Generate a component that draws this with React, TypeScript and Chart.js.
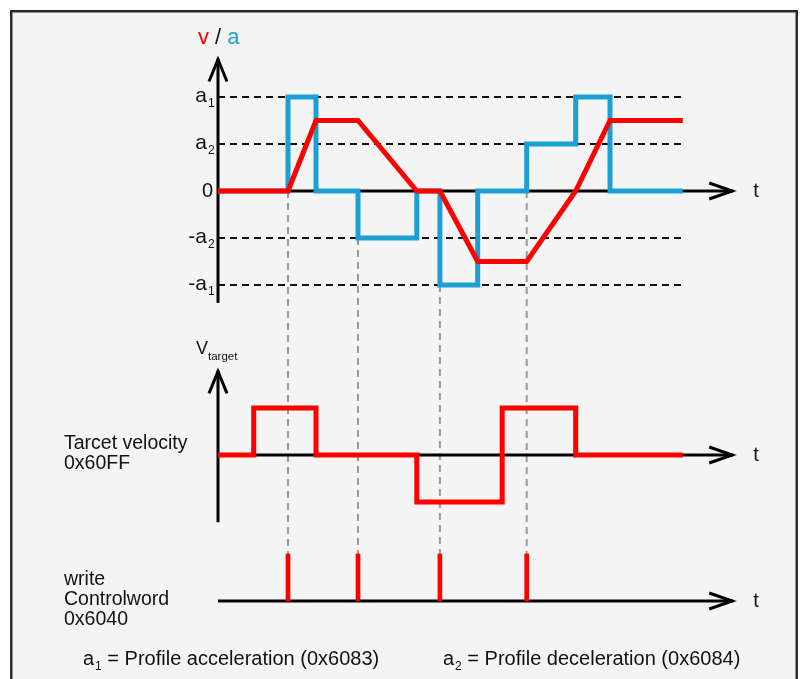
import React, { useEffect, useRef } from 'react';
import { Chart, registerables } from 'chart.js';

Chart.register(...registerables);

// ---- data ----
const timePoints = [0, 10, 14, 20, 28.4, 31.7, 37.1, 44.1, 51.1, 56, 66.4];
const accelValues = [0, 2, 0, -1, 0, -2, 0, 1, 2, 0, 0];
const velocityValues = [0, 0, 1.5, 1.5, 0, 0, -1.5, -1.5, 0, 1.5, 1.5];
const targetTimes = [0, 5.1, 14, 28.4, 40.6, 51.1, 66.4];
const targetValues = [0, 1, 0, -1, 1, 0, 0];
const writeTimes = [10, 20, 31.7, 44.1];
const writeValues = [1, 1, 1, 1];
const guideStartLevels = [0, -1, -2, 0];
const refLevels = [2, 1, -1, -2];
const refLabelMain = ['a', 'a', '-a', '-a'];
const refLabelSub = ['1', '2', '2', '1'];
const refEndTime = 66.7;
const arrowTipTime = 73.6;

const RED = '#ff0000';
const BLUE = '#1c9fd3';
const FONT = '"Liberation Sans", Arial, Helvetica, sans-serif';

const diagramPlugin = {
  id: 'diagram',
  beforeDraw(chart: any) {
    const ctx = chart.ctx;
    ctx.save();
    ctx.fillStyle = '#ffffff';
    ctx.fillRect(0, 0, chart.width, chart.height);
    ctx.fillStyle = '#f4f4f4';
    ctx.fillRect(11, 11, 786, 720);
    ctx.strokeStyle = '#2b2b2b';
    ctx.lineWidth = 2.5;
    ctx.strokeRect(11.25, 11.25, 785.5, 720);
    ctx.restore();
  },
  beforeDatasetsDraw(chart: any) {
    const ctx = chart.ctx;
    const sx = chart.scales.x;
    const yA = chart.scales.yA;
    const yV = chart.scales.yV;
    const yC = chart.scales.yC;
    const x0 = sx.getPixelForValue(0);
    const xTip = sx.getPixelForValue(arrowTipTime);
    ctx.save();
    // gray guides
    ctx.strokeStyle = '#9a9a9a';
    ctx.lineWidth = 2;
    ctx.setLineDash([7, 5]);
    writeTimes.forEach((t, i) => {
      const x = sx.getPixelForValue(t);
      ctx.beginPath();
      ctx.moveTo(x, yA.getPixelForValue(guideStartLevels[i]));
      ctx.lineTo(x, yC.getPixelForValue(0));
      ctx.stroke();
    });
    ctx.setLineDash([]);
    ctx.strokeStyle = '#000';
    ctx.lineWidth = 3;
    ctx.lineJoin = 'miter';
    ctx.lineCap = 'butt';
    const upAxis = (top: number, bottom: number) => {
      ctx.beginPath();
      ctx.moveTo(x0, bottom);
      ctx.lineTo(x0, top);
      ctx.stroke();
      ctx.beginPath();
      ctx.moveTo(x0 - 9, top + 23);
      ctx.lineTo(x0, top + 1);
      ctx.lineTo(x0 + 9, top + 23);
      ctx.stroke();
    };
    const rightAxis = (y: number) => {
      ctx.beginPath();
      ctx.moveTo(x0, y);
      ctx.lineTo(xTip, y);
      ctx.stroke();
      ctx.beginPath();
      ctx.moveTo(xTip - 24, y - 8);
      ctx.lineTo(xTip - 1, y);
      ctx.lineTo(xTip - 24, y + 8);
      ctx.stroke();
    };
    upAxis(yA.getPixelForValue(2.82), yA.getPixelForValue(-2.38));
    rightAxis(yA.getPixelForValue(0));
    upAxis(yV.getPixelForValue(1.8), yV.getPixelForValue(-1.43));
    rightAxis(yV.getPixelForValue(0));
    rightAxis(yC.getPixelForValue(0));
    ctx.restore();
  },
  afterDatasetsDraw(chart: any) {
    const ctx = chart.ctx;
    const sx = chart.scales.x;
    const yA = chart.scales.yA;
    const yV = chart.scales.yV;
    const yC = chart.scales.yC;
    ctx.save();
    ctx.textBaseline = 'middle';
    ctx.fillStyle = '#111';
    const labelRight = sx.getPixelForValue(0) - 11;
    // level labels
    ctx.font = `20px ${FONT}`;
    ctx.textAlign = 'right';
    ctx.fillText('0', labelRight + 6, yA.getPixelForValue(0));
    refLevels.forEach((lv, i) => {
      const y = yA.getPixelForValue(lv);
      ctx.font = `21px ${FONT}`;
      ctx.textAlign = 'right';
      ctx.fillText(refLabelMain[i], labelRight, y - 1);
      ctx.font = `12px ${FONT}`;
      ctx.textAlign = 'left';
      ctx.fillText(refLabelSub[i], labelRight + 1, y + 7);
    });
    // t labels
    ctx.font = `20px ${FONT}`;
    ctx.textAlign = 'left';
    const tx = sx.getPixelForValue(arrowTipTime) + 20;
    ctx.fillText('t', tx, yA.getPixelForValue(0));
    ctx.fillText('t', tx, yV.getPixelForValue(0));
    ctx.fillText('t', tx, yC.getPixelForValue(0));
    // v / a title
    ctx.font = `22px ${FONT}`;
    let px = 198;
    const ty = 38;
    ctx.fillStyle = RED;
    ctx.fillText('v', px, ty);
    px += ctx.measureText('v ').width;
    ctx.fillStyle = '#111';
    ctx.fillText('/', px, ty);
    px += ctx.measureText('/ ').width;
    ctx.fillStyle = BLUE;
    ctx.fillText('a', px, ty);
    // V target
    ctx.fillStyle = '#111';
    ctx.font = `18px ${FONT}`;
    ctx.fillText('V', 196, 349);
    ctx.font = `11.5px ${FONT}`;
    ctx.fillText('target', 208, 357);
    // left labels
    ctx.font = `19.5px ${FONT}`;
    ctx.fillText('Tarcet velocity', 64, 444);
    ctx.fillText('0x60FF', 64, 464);
    ctx.fillText('write', 64, 580);
    ctx.fillText('Controlword', 64, 600);
    ctx.fillText('0x6040', 64, 620);
    // footer
    const footer = (x: number, sub: string, rest: string) => {
      ctx.font = `20px ${FONT}`;
      ctx.fillText('a', x, 659);
      const w = ctx.measureText('a').width;
      ctx.font = `12px ${FONT}`;
      ctx.fillText(sub, x + w + 1, 667);
      const ws = ctx.measureText(sub).width;
      ctx.font = `20px ${FONT}`;
      ctx.fillText(rest, x + w + 1 + ws, 659);
    };
    footer(83, '1', ' = Profile acceleration (0x6083)');
    footer(443, '2', ' = Profile deceleration (0x6084)');
    ctx.restore();
  },
};

export default function App() {
  const canvasRef = useRef<HTMLCanvasElement | null>(null);

  useEffect(() => {
    const canvas = canvasRef.current;
    if (!canvas) return;
    const pts = (xs: number[], ys: number[]) => xs.map((x, i) => ({ x, y: ys[i] }));
    const refDatasets = refLevels.map((lv) => ({
      type: 'line' as const,
      data: [
        { x: 0, y: lv },
        { x: refEndTime, y: lv },
      ],
      yAxisID: 'yA',
      borderColor: '#111',
      borderWidth: 2,
      borderDash: [7, 5],
      pointRadius: 0,
      order: 5,
    }));
    const chart = new Chart(canvas, {
      type: 'line',
      data: {
        datasets: [
          {
            type: 'line',
            data: pts(timePoints, velocityValues),
            yAxisID: 'yA',
            borderColor: RED,
            borderWidth: 5,
            pointRadius: 0,
            tension: 0,
            borderJoinStyle: 'miter',
            order: 0,
          },
          {
            type: 'line',
            data: pts(timePoints, accelValues),
            yAxisID: 'yA',
            borderColor: BLUE,
            borderWidth: 5,
            pointRadius: 0,
            stepped: 'before',
            borderJoinStyle: 'miter',
            order: 1,
          },
          {
            type: 'line',
            data: pts(targetTimes, targetValues),
            yAxisID: 'yV',
            borderColor: RED,
            borderWidth: 5,
            pointRadius: 0,
            stepped: 'before',
            borderJoinStyle: 'miter',
            order: 0,
          },
          {
            type: 'bar',
            data: pts(writeTimes, writeValues),
            yAxisID: 'yC',
            backgroundColor: RED,
            barThickness: 4,
            order: 0,
          } as any,
          ...refDatasets,
        ],
      },
      options: {
        responsive: false,
        animation: false,
        events: [],
        layout: { padding: 0 },
        plugins: {
          legend: { display: false },
          tooltip: { enabled: false },
          title: { display: false },
        },
        scales: {
          x: { type: 'linear', display: false, offset: false, min: -218 / 7, max: 582 / 7 },
          yA: { type: 'linear', display: false, min: -488 / 47, max: 191 / 47 },
          yV: { type: 'linear', display: false, min: -224 / 47, max: 455 / 47 },
          yC: { type: 'linear', display: false, min: -78 / 47, max: 601 / 47 },
        },
      } as any,
      plugins: [diagramPlugin],
    });
    return () => chart.destroy();
  }, []);

  return (
    <div style={{ position: 'absolute', left: 0, top: 0, width: 800, height: 679 }}>
      <canvas ref={canvasRef} width={800} height={679} style={{ display: 'block', width: 800, height: 679 }} />
    </div>
  );
}
